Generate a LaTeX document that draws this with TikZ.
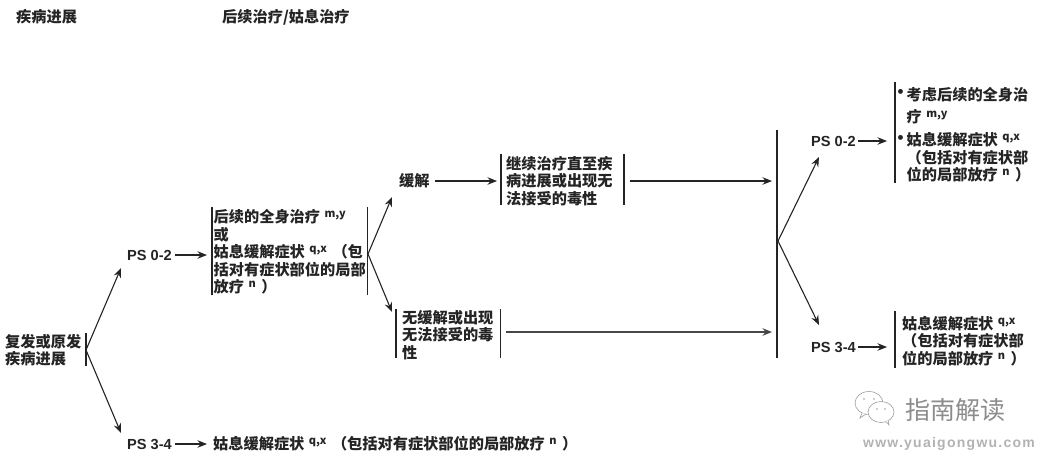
\documentclass[tikz,border=0pt]{standalone}
\usepackage{fontspec}
\setmainfont{Liberation Sans}
\newfontfamily\cjk{Noto Sans CJK SC}
\usetikzlibrary{arrows.meta}
\newcommand{\upidx}[1]{\hspace{1pt}\raisebox{5pt}{\fontsize{11}{11}\selectfont\bfseries #1}\hspace{2pt}}
\definecolor{ink}{HTML}{242424}
\tikzset{
  x=1pt,y=-1pt,
  lab/.style={anchor=west,inner sep=0pt,align=left,text=ink,font=\fontsize{15.2}{17.5}\selectfont\bfseries\cjk},
  ps/.style={anchor=west,inner sep=0pt,text=ink,font=\fontsize{14.6}{16}\selectfont\bfseries},
  bar/.style={draw=ink,line width=1.1pt},
  arr/.style={draw=ink,line width=1.1pt,-{Stealth[length=9.5pt,width=7.5pt]}},
  wm/.style={draw=black!38,line width=.6pt,fill=white},
}
\begin{document}
\begin{tikzpicture}
\useasboundingbox (0,0) rectangle (1040,456);
% headings
\node[lab] (h1) at (16,17) {疾病进展};
\node[lab] (h2) at (222,17) {后续治疗/姑息治疗};
% root
\node[lab] (root) at (5,350) {复发或原发\\疾病进展};
\coordinate (rt) at (86,333); \coordinate (rb) at (86,366); \coordinate (rj) at (86,350);
\draw[bar] (rt) -- (rb);
% PS 0-2 left
\node[ps] (psa) at (127,255) {PS 0-2};
\node[ps] (psb) at (127,444) {PS 3-4};
\coordinate (psaT) at (121,268); \coordinate (psbT) at (121,433);
\draw[arr] (rj) -- (psaT);
\draw[arr] (rj) -- (psbT);
\coordinate (a1t) at (212,207); \coordinate (a1b) at (212,295);
\coordinate (a1i) at (207,255);
\draw[bar] (a1t) -- (a1b);
\draw[arr] (psa.east) ++(3,0) coordinate (psaE) (psaE) -- (a1i);
\node[lab] (sys) at (213.5,252) {后续的全身治疗 \upidx{m,y}\\或\\姑息缓解症状 \upidx{q,x} （包\\括对有症状部位的局部\\放疗 \upidx{n} ）};
\coordinate (a2t) at (367.5,207); \coordinate (a2b) at (367.5,295); \coordinate (a2j) at (368,254);
\draw[bar] (a2t) -- (a2b);
\coordinate (b1i) at (207,444);
\draw[arr] (psb.east) ++(3,0) coordinate (psbE) (psbE) -- (b1i);
\node[lab] (pal) at (213,444) {姑息缓解症状 \upidx{q,x} （包括对有症状部位的局部放疗 \upidx{n} ）};
% response
\coordinate (reT) at (392,197); \coordinate (noT) at (392,312);
\draw[arr] (a2j) -- (reT);
\draw[arr] (a2j) -- (noT);
\node[lab] (re) at (399,181) {缓解};
\coordinate (c1i) at (497,181);
\draw[bar] (501,154) coordinate (c1t) -- (501,205) coordinate (c1b);
\draw[arr] (re.east) ++(5,0) coordinate (reE) (reE) -- (c1i);
\node[lab] (cont) at (506,181) {继续治疗直至疾\\病进展或出现无\\法接受的毒性};
\draw[bar] (624,154) coordinate (c2t) -- (624,205) coordinate (c2b);
\coordinate (c2o) at (630,181); \coordinate (bigA) at (772,181);
\draw[arr] (c2o) -- (bigA);
% no response
\draw[bar] (396,309) coordinate (d1t) -- (396,358) coordinate (d1b);
\node[lab] (nore) at (402,335) {无缓解或出现\\无法接受的毒\\性};
\draw[bar] (500.5,309) coordinate (d2t) -- (500.5,358) coordinate (d2b);
\coordinate (d2o) at (506,332); \coordinate (bigB) at (772,332);
\draw[arr,line width=1.4pt,draw=black!72] (d2o) -- (bigB);
% big bar
\draw[bar] (777,130) coordinate (bt) -- (777,358) coordinate (bb);
\coordinate (bj) at (778,241); \coordinate (psrT) at (819,157); \coordinate (pssT) at (819,325);
\draw[arr] (bj) -- (psrT);
\draw[arr] (bj) -- (pssT);
% right PS 0-2
\node[ps] (psr) at (811,141) {PS 0-2};
\coordinate (e1i) at (887,141);
\draw[arr] (psr.east) ++(2,0) coordinate (psrE) (psrE) -- (e1i);
\draw[bar] (895,82) coordinate (e1t) -- (895,183) coordinate (e1b);
\node[lab,font=\fontsize{15.2}{22.5}\selectfont\bfseries\cjk] (cons) at (906.5,105.5) {考虑后续的全身治\\疗 \upidx{m,y}};
\node[lab] (cons2) at (906.5,157.5) {姑息缓解症状 \upidx{q,x}\\（包括对有症状部\\位的局部放疗 \upidx{n} ）};
\node[inner sep=0pt,text=ink,font=\fontsize{17}{17}\selectfont\bfseries] (bu1) at (900.5,93) {•};
\node[inner sep=0pt,text=ink,font=\fontsize{17}{17}\selectfont\bfseries] (bu2) at (900.5,139) {•};
% right PS 3-4
\node[ps] (pss) at (811,347) {PS 3-4};
\coordinate (f1i) at (887,347);
\draw[arr] (pss.east) ++(2,0) coordinate (pssE) (pssE) -- (f1i);
\draw[bar] (895,311) coordinate (f1t) -- (895,368) coordinate (f1b);
\node[lab] (pal2) at (902,341) {姑息缓解症状 \upidx{q,x}\\（包括对有症状部\\位的局部放疗 \upidx{n} ）};
% watermark
\draw[wm] (869,403) ellipse (14 and 11.5);
\draw[wm] (881,412) ellipse (13 and 10.5);
\draw[wm] (886,421.5) -- (889,425) -- (888,420);
\draw[wm] (862,413) -- (860,418) -- (866,414);
\foreach \p in {(864,399),(874,399),(877,409),(885,409)} \fill[black!38] \p circle (.9);
\node[inner sep=0pt,text=black!45,font=\fontsize{25}{27}\selectfont\cjk] (wmt) at (955,410) {指南解读};
\node[inner sep=0pt,text=black!30,font=\fontsize{14}{15}\selectfont\bfseries\addfontfeature{LetterSpace=9}] (wmu) at (949,444) {www.yuaigongwu.com};
\end{tikzpicture}
\end{document}
